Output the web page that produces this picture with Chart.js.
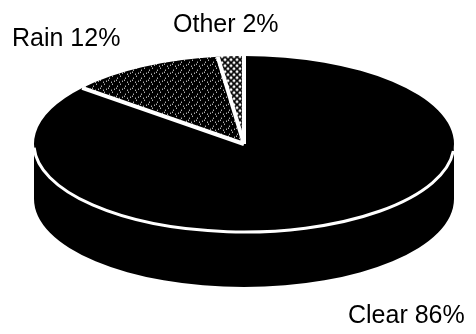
<!DOCTYPE html>
<html>
<head>
<meta charset="utf-8">
<script src="https://cdn.jsdelivr.net/npm/chart.js@4/dist/chart.umd.min.js"></script>
<style>
  html, body { margin: 0; padding: 0; background: #fff; overflow: hidden; }
  #wrap { width: 476px; height: 334px; position: relative; }
</style>
</head>
<body>
<div id="wrap"><canvas id="c"></canvas></div>
<script>
// Weather share of observed days
const categories = ['Clear', 'Rain', 'Other'];
const shares = [86, 12, 2];

const TILT = 0.419;   // vertical squash of the disc (ry / rx)
const DEPTH = 55;     // thickness of the disc, px

// Dark stipple: black ground sprinkled with white specks
function stipplePattern(ctx) {
  const t = document.createElement('canvas');
  t.width = 8; t.height = 8;
  const g = t.getContext('2d');
  g.fillStyle = '#000';
  g.fillRect(0, 0, 8, 8);
  g.fillStyle = '#fff';
  [[0,0],[5,2],[2,5],[7,6],[4,4]].forEach(([px, py]) => g.fillRect(px, py, 1, 1));
  const p = ctx.createPattern(t, 'repeat');
  p.setTransform(new DOMMatrix().scale(1, 1 / TILT));
  return p;
}

// Cross-hatched lattice: black diagonals leaving white diamonds
function latticePattern(ctx) {
  const t = document.createElement('canvas');
  t.width = 6; t.height = 6;
  const g = t.getContext('2d');
  g.fillStyle = '#fff';
  g.fillRect(0, 0, 6, 6);
  g.strokeStyle = '#000';
  g.lineWidth = 1.6;
  g.beginPath();
  g.moveTo(-1, -1); g.lineTo(7, 7);
  g.moveTo(7, -1); g.lineTo(-1, 7);
  g.stroke();
  const p = ctx.createPattern(t, 'repeat');
  p.setTransform(new DOMMatrix().scale(1, 1 / TILT));
  return p;
}

// Parts of [s, e] that face the viewer (lower half of the ellipse)
function frontSpans(s, e) {
  const spans = [];
  for (const k of [-2, 0, 2]) {
    const lo = Math.max(s, k * Math.PI);
    const hi = Math.min(e, k * Math.PI + Math.PI);
    if (hi > lo) spans.push([lo, hi]);
  }
  return spans;
}

const disc3d = {
  id: 'disc3d',
  beforeDatasetsDraw(chart) {
    const ctx = chart.ctx;
    const arcs = chart.getDatasetMeta(0).data;
    // extruded side wall
    arcs.forEach(arc => {
      const p = arc.getProps(['x', 'y', 'startAngle', 'endAngle', 'outerRadius'], true);
      const r = p.outerRadius;
      frontSpans(p.startAngle, p.endAngle).forEach(([a, b]) => {
        ctx.beginPath();
        ctx.ellipse(p.x, p.y, r, r * TILT, 0, a, b);
        ctx.ellipse(p.x, p.y + DEPTH, r, r * TILT, 0, b, a, true);
        ctx.closePath();
        ctx.fillStyle = '#000';
        ctx.fill();
      });
    });
    // squash the top face
    const c = arcs[0].getProps(['x', 'y'], true);
    ctx.save();
    ctx.translate(c.x, c.y);
    ctx.scale(1, TILT);
    ctx.translate(-c.x, -c.y);
  },
  afterDatasetsDraw(chart) {
    const ctx = chart.ctx;
    ctx.restore();
    const arcs = chart.getDatasetMeta(0).data;
    ctx.save();
    ctx.strokeStyle = '#fff';
    arcs.forEach(arc => {
      const p = arc.getProps(['x', 'y', 'startAngle', 'endAngle', 'outerRadius'], true);
      const r = p.outerRadius;
      // radial separator
      ctx.beginPath();
      ctx.moveTo(p.x, p.y);
      ctx.lineTo(p.x + r * Math.cos(p.startAngle), p.y + r * TILT * Math.sin(p.startAngle));
      ctx.lineWidth = 4;
      ctx.stroke();
      // rim between top face and side wall
      frontSpans(p.startAngle, p.endAngle).forEach(([a, b]) => {
        ctx.beginPath();
        ctx.ellipse(p.x, p.y, r, r * TILT, 0, a + 0.08, b - 0.04);
        ctx.lineWidth = 3;
        ctx.stroke();
      });
    });
    ctx.restore();
  },
  afterDraw(chart, args, opts) {
    const ctx = chart.ctx;
    const labels = chart.data.labels;
    const values = chart.data.datasets[0].data;
    ctx.save();
    ctx.fillStyle = '#000';
    ctx.font = opts.font;
    ctx.textBaseline = 'alphabetic';
    ctx.textAlign = 'left';
    labels.forEach((lab, i) => {
      const spot = opts.spots[i];
      ctx.fillText(lab + ' ' + values[i] + '%', spot.x, spot.y);
    });
    ctx.restore();
  }
};

const canvas = document.getElementById('c');
const ctx0 = canvas.getContext('2d');

new Chart(canvas, {
  type: 'pie',
  data: {
    labels: categories,
    datasets: [{
      data: shares,
      backgroundColor: ['#000', stipplePattern(ctx0), latticePattern(ctx0)],
      borderWidth: 0,
      hoverOffset: 0,
      clip: false
    }]
  },
  options: {
    responsive: true,
    maintainAspectRatio: false,
    animation: false,
    events: [],
    radius: 210,
    layout: { padding: { left: 12, right: 0, top: 0, bottom: 46 } },
    plugins: {
      legend: { display: false },
      tooltip: { enabled: false },
      disc3d: {
        font: '25px "Liberation Sans", Arial, sans-serif',
        spots: [{ x: 348, y: 323 }, { x: 12, y: 46 }, { x: 173, y: 32 }]
      }
    }
  },
  plugins: [disc3d]
});
</script>
</body>
</html>
